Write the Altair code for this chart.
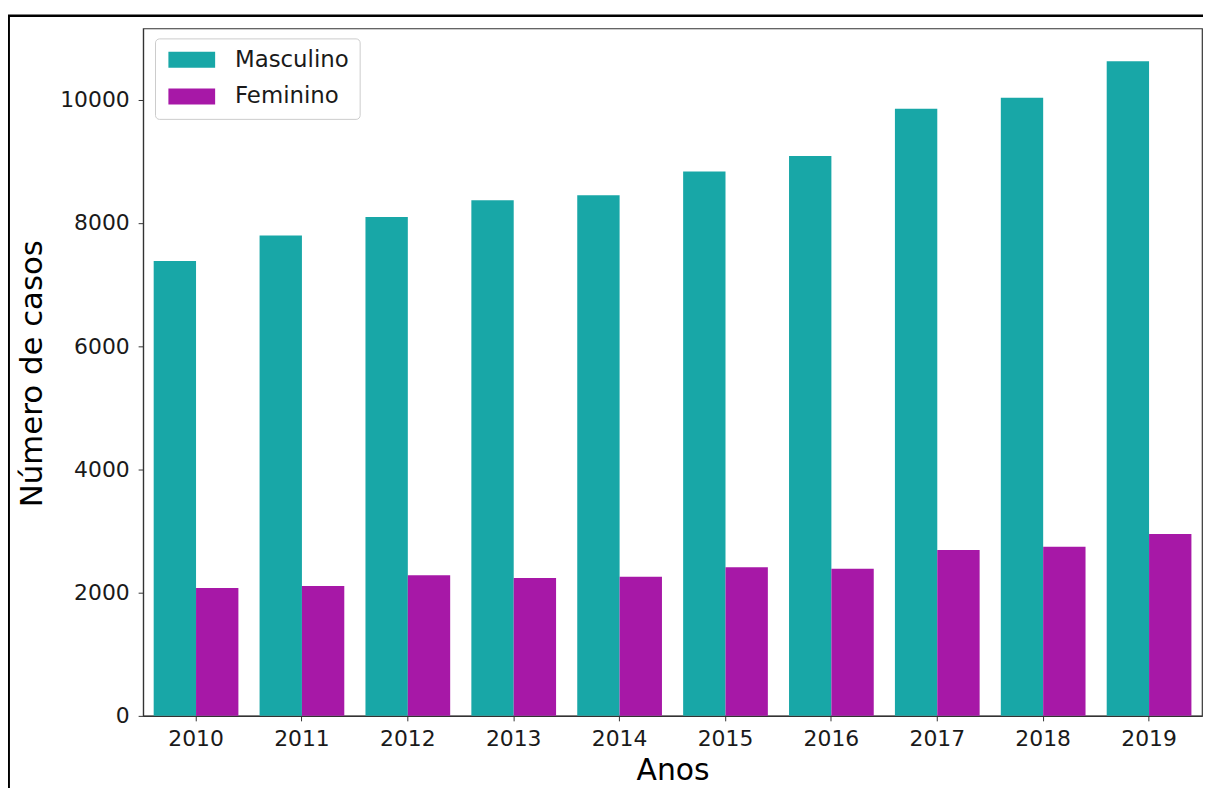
import altair as alt
import pandas as pd

years = ["2010", "2011", "2012", "2013", "2014", "2015", "2016", "2017", "2018", "2019"]
masculino = [7383, 7798, 8098, 8367, 8448, 8834, 9087, 9855, 10033, 10624]
feminino = [2075, 2107, 2284, 2236, 2257, 2413, 2386, 2692, 2746, 2950]
groups = ["Masculino", "Feminino"]
colors = ["#18A7A7", "#A718A7"]
y_ticks = [0, 2000, 4000, 6000, 8000, 10000]

rows = []
for i, yr in enumerate(years):
    rows.append({"Ano": yr, "Sexo": "Masculino", "Casos": masculino[i]})
    rows.append({"Ano": yr, "Sexo": "Feminino", "Casos": feminino[i]})
df = pd.DataFrame(rows)

FONT = "DejaVu Sans"

bars = alt.Chart(df).mark_bar(clip=False).encode(
    x=alt.X(
        "Ano:N",
        sort=years,
        scale=alt.Scale(paddingInner=0.2, paddingOuter=0.1),
        axis=alt.Axis(
            title="Anos",
            labelAngle=0,
            labelFontSize=22,
            labelBaseline="alphabetic",
            labelPadding=25,
            titleFontSize=30,
            titleFontWeight="normal",
            titleBaseline="alphabetic",
            titleY=64,
        ),
    ),
    xOffset=alt.XOffset("Sexo:N", sort=groups, scale=alt.Scale(paddingInner=0, paddingOuter=0)),
    y=alt.Y(
        "Casos:Q",
        scale=alt.Scale(domain=[0, 11156], nice=False, zero=True),
        axis=alt.Axis(
            title="Número de casos",
            values=y_ticks,
            format="d",
            grid=False,
            labelFontSize=22,
            labelPadding=9,
            titleFontSize=31,
            titleFontWeight="normal",
            titleBaseline="alphabetic",
            titleAngle=270,
            titleX=-102,
            titleY=347,
            titleAlign="center",
        ),
    ),
    color=alt.Color(
        "Sexo:N",
        sort=groups,
        scale=alt.Scale(domain=groups, range=colors),
        legend=alt.Legend(
            title=None,
            orient="none",
            legendX=12,
            legendY=10,
            symbolType="M-2.94,-1L2.94,-1L2.94,1L-2.94,1Z",
            symbolSize=256,
            symbolOffset=15.5,
            symbolStrokeWidth=0,
            symbolOpacity=1,
            labelFontSize=23,
            labelOffset=32,
            rowPadding=13,
            padding=10,
            strokeColor="#cccccc",
            cornerRadius=4,
            fillColor="white",
        ),
    ),
)

frame = alt.Chart(alt.Data(values=[{"a": 1}])).mark_rect(
    filled=False, stroke="black", strokeWidth=2.5, clip=False
).encode(
    x=alt.value(-135.3),
    x2=alt.value(1090),
    y=alt.value(-12.7),
    y2=alt.value(820),
)

chart = alt.layer(bars, frame).properties(
    width=1066,
    height=692,
    autosize=alt.AutoSizeParams(type="none"),
    padding={"left": 136, "top": 18, "right": 1, "bottom": 70},
).configure(
    font=FONT,
    background="white",
).configure_view(
    stroke="#333333",
    strokeWidth=1.2,
).configure_axis(
    labelFont=FONT,
    titleFont=FONT,
    labelColor="#1a1a1a",
    titleColor="#000000",
    domainColor="#333333",
    domainWidth=1.2,
    tickColor="#333333",
    tickSize=5,
    tickWidth=1,
).configure_legend(
    labelFont=FONT,
    labelColor="#1a1a1a",
)

chart.save("out.html", embed_options={"renderer": "svg", "actions": False})
